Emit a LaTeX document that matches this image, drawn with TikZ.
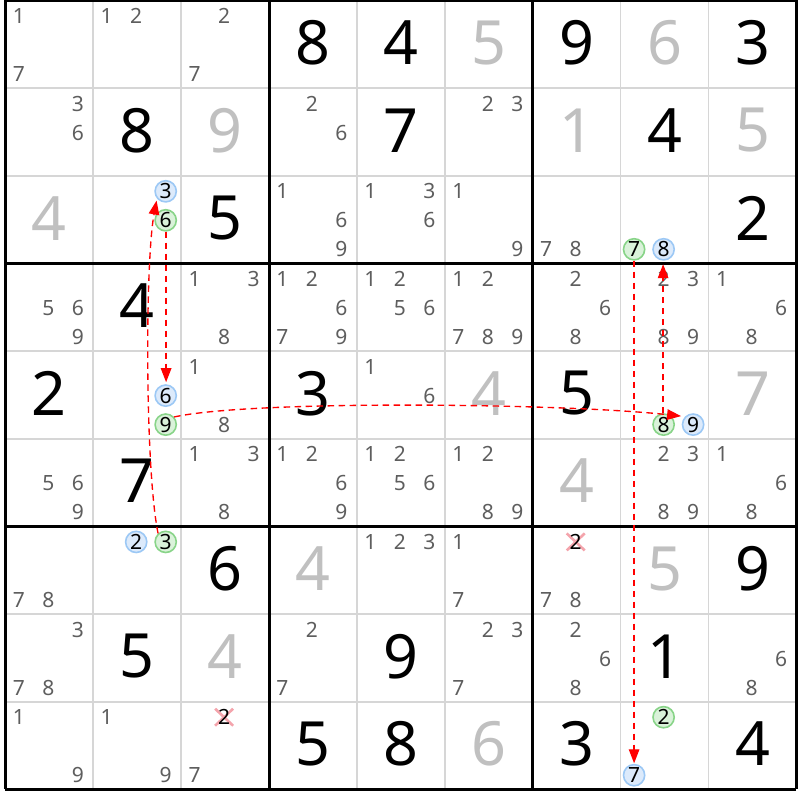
\documentclass[tikz,border=0pt]{standalone}
\usepackage{fontspec}
\setmainfont{Noto Sans}
\usetikzlibrary{arrows.meta}
\definecolor{candgray}{HTML}{5E5E5E}
\definecolor{givengray}{HTML}{C0C0C0}
\definecolor{thingray}{HTML}{D6D6D6}
\definecolor{bstroke}{HTML}{9CC8F5}
\definecolor{bfill}{HTML}{DCEAFB}
\definecolor{gstroke}{HTML}{88D488}
\definecolor{gfill}{HTML}{DAF2DA}
\definecolor{xpink}{HTML}{F4A4AC}
\definecolor{linkred}{HTML}{FF0000}
\pgfdeclarelayer{bg}
\pgfdeclarelayer{mid}
\pgfsetlayers{bg,mid,main}
\def\XO{5.3}\def\YO{0.5}\def\CW{87.9}\def\CH{87.65}
\newcommand\sdcand[4][cnd]{\node[#1] (c-#2-#3-#4) at ({\XO+#3*\CW+13.5+29.5*mod(#4-1,3)},{\YO+#2*\CH+15.5+29*floor((#4-1)/3)}) {#4};}
\newcommand\sdcands[3]{\foreach \dd in {#3}{\sdcand{#1}{#2}{\dd}}}
\newcommand\sdgiven[4]{\node[bigdig,text=#4] (g-#1-#2) at ({\XO+(#2+0.5)*\CW},{\YO+(#1+0.5)*\CH-1.5}) {#3};}
\begin{document}
\begin{tikzpicture}[x=1pt,y=-1pt,
  bigdig/.style={inner sep=0pt, font=\fontsize{61}{61}\selectfont},
  cnd/.style={inner sep=0pt, text=candgray, font=\fontsize{21}{21}\selectfont},
  bluec/.style={cnd, text=black, circle, draw=bstroke, fill=bfill, line width=1.6pt, minimum size=21.2pt},
  greenc/.style={cnd, text=black, circle, draw=gstroke, fill=gfill, line width=1.6pt, minimum size=21.2pt},
  crossc/.style={cnd, text=black},
  xmark/.style={draw=xpink, line width=2.6pt},
  thinline/.style={draw=thingray, line width=1.6pt},
  thickline/.style={draw=black, line width=3pt},
  link/.style={draw=linkred, line width=1.35pt, dash pattern=on 6.5pt off 4.5pt, -{Triangle[length=14pt,width=10.5pt]}, shorten >=2pt}
]
\useasboundingbox (0,0) rectangle (800,800);
\begin{pgfonlayer}{bg}
\fill[white] (0,0) rectangle (800,800);
\foreach \i in {1,2,4,5,7,8}{
  \draw[thinline] ({\XO+\i*\CW},\YO) -- ({\XO+\i*\CW},{\YO+9*\CH});
  \draw[thinline] (\XO,{\YO+\i*\CH}) -- ({\XO+9*\CW},{\YO+\i*\CH});
}
\foreach \i in {0,3,6,9}{
  \draw[thickline] ({\XO+\i*\CW},\YO) -- ({\XO+\i*\CW},{\YO+9*\CH});
  \draw[thickline] (\XO,{\YO+\i*\CH}) -- ({\XO+9*\CW},{\YO+\i*\CH});
}
\end{pgfonlayer}
% given / placed digits
\sdgiven{0}{3}{8}{black}\sdgiven{0}{4}{4}{black}\sdgiven{0}{5}{5}{givengray}
\sdgiven{0}{6}{9}{black}\sdgiven{0}{7}{6}{givengray}\sdgiven{0}{8}{3}{black}
\sdgiven{1}{1}{8}{black}\sdgiven{1}{2}{9}{givengray}\sdgiven{1}{4}{7}{black}
\sdgiven{1}{6}{1}{givengray}\sdgiven{1}{7}{4}{black}\sdgiven{1}{8}{5}{givengray}
\sdgiven{2}{0}{4}{givengray}\sdgiven{2}{2}{5}{black}\sdgiven{2}{8}{2}{black}
\sdgiven{3}{1}{4}{black}
\sdgiven{4}{0}{2}{black}\sdgiven{4}{3}{3}{black}\sdgiven{4}{5}{4}{givengray}
\sdgiven{4}{6}{5}{black}\sdgiven{4}{8}{7}{givengray}
\sdgiven{5}{1}{7}{black}\sdgiven{5}{6}{4}{givengray}
\sdgiven{6}{2}{6}{black}\sdgiven{6}{3}{4}{givengray}\sdgiven{6}{7}{5}{givengray}\sdgiven{6}{8}{9}{black}
\sdgiven{7}{1}{5}{black}\sdgiven{7}{2}{4}{givengray}\sdgiven{7}{4}{9}{black}\sdgiven{7}{7}{1}{black}
\sdgiven{8}{3}{5}{black}\sdgiven{8}{4}{8}{black}\sdgiven{8}{5}{6}{givengray}
\sdgiven{8}{6}{3}{black}\sdgiven{8}{8}{4}{black}
% candidates
\sdcands{0}{0}{1,7}\sdcands{0}{1}{1,2}\sdcands{0}{2}{2,7}
\sdcands{1}{0}{3,6}\sdcands{1}{3}{2,6}\sdcands{1}{5}{2,3}
\sdcand[bluec]{2}{1}{3}\sdcand[greenc]{2}{1}{6}
\sdcands{2}{3}{1,6,9}\sdcands{2}{4}{1,3,6}\sdcands{2}{5}{1,9}\sdcands{2}{6}{7,8}
\sdcand[greenc]{2}{7}{7}\sdcand[bluec]{2}{7}{8}
\sdcands{3}{0}{5,6,9}\sdcands{3}{2}{1,3,8}\sdcands{3}{3}{1,2,6,7,9}\sdcands{3}{4}{1,2,5,6}
\sdcands{3}{5}{1,2,7,8,9}\sdcands{3}{6}{2,6,8}\sdcands{3}{7}{2,3,8,9}\sdcands{3}{8}{1,6,8}
\sdcand[bluec]{4}{1}{6}\sdcand[greenc]{4}{1}{9}
\sdcands{4}{2}{1,8}\sdcands{4}{4}{1,6}
\sdcand[greenc]{4}{7}{8}\sdcand[bluec]{4}{7}{9}
\sdcands{5}{0}{5,6,9}\sdcands{5}{2}{1,3,8}\sdcands{5}{3}{1,2,6,9}\sdcands{5}{4}{1,2,5,6}
\sdcands{5}{5}{1,2,8,9}\sdcands{5}{7}{2,3,8,9}\sdcands{5}{8}{1,6,8}
\sdcands{6}{0}{7,8}\sdcand[bluec]{6}{1}{2}\sdcand[greenc]{6}{1}{3}
\sdcands{6}{4}{1,2,3}\sdcands{6}{5}{1,7}\sdcand[crossc]{6}{6}{2}\sdcands{6}{6}{7,8}
\sdcands{7}{0}{3,7,8}\sdcands{7}{3}{2,7}\sdcands{7}{5}{2,3,7}\sdcands{7}{6}{2,6,8}\sdcands{7}{8}{6,8}
\sdcands{8}{0}{1,9}\sdcands{8}{1}{1,9}\sdcand[crossc]{8}{2}{2}\sdcands{8}{2}{7}
\sdcand[greenc]{8}{7}{2}\sdcand[bluec]{8}{7}{7}
% crosses
\begin{pgfonlayer}{mid}
\foreach \n in {c-6-6-2,c-8-2-2}{
  \draw[xmark] (\n.center) ++(-9,-8.5) -- ++(18,17);
  \draw[xmark] (\n.center) ++(9,-8.5) -- ++(-18,17);
}
\end{pgfonlayer}
% links
\draw[link] (c-6-1-3.132) .. controls (145,470) and (145,262) .. (c-2-1-3.220);
\draw[link] ([xshift=0.4pt]c-2-1-6.south) -- ([xshift=0.4pt]c-4-1-6.north);
\draw[link, shorten >=4pt] (c-4-1-9.42) .. controls (250,400) and (560,403) .. (c-4-7-9.135);
\draw[link, shorten >=3.5pt] ([xshift=-0.5pt]c-4-7-8.north) -- ([xshift=-0.5pt]c-2-7-8.south);
\draw[link, shorten >=0.5pt] (c-2-7-7.south) -- (c-8-7-7.north);
\end{tikzpicture}
\end{document}
